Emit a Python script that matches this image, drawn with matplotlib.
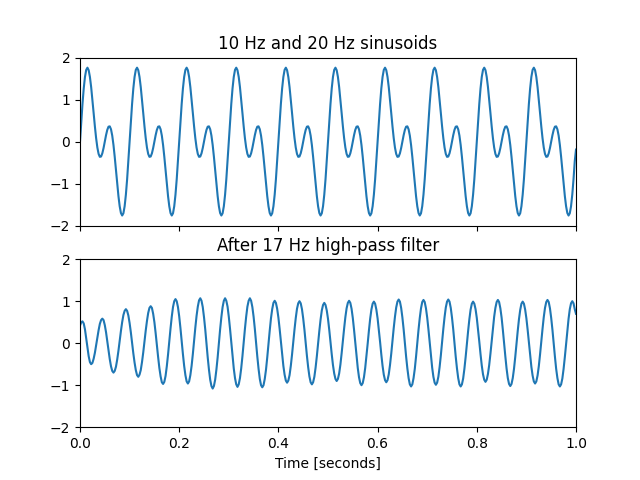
import numpy as np
import matplotlib
matplotlib.use('Agg')
import matplotlib.pyplot as plt

# sample spacing of the traces (seconds)
step = 0.0025
n_cycles = 10

# one 0.1 s period of the raw signal (10 Hz + 20 Hz)
raw_cycle = [0.0, 0.465, 0.897, 1.263, 1.539, 1.707, 1.760, 1.700, 1.539, 1.297,
             1.000, 0.679, 0.363, 0.082, -0.142, -0.293, -0.363, -0.355, -0.279, -0.153,
             0.0, 0.153, 0.279, 0.355, 0.363, 0.293, 0.142, -0.082, -0.363, -0.679,
             -1.000, -1.297, -1.539, -1.700, -1.760, -1.707, -1.539, -1.263, -0.897, -0.465]
raw_end = -0.19

# high-pass filtered trace
filtered = [
    0.42, 0.50, 0.52, 0.47, 0.33, 0.12, -0.10, -0.31, -0.45, -0.50,
    -0.47, -0.37, -0.23, -0.05, 0.14, 0.31, 0.46, 0.55, 0.585,
    0.55, 0.43, 0.26, 0.05, -0.17, -0.38, -0.55, -0.66, -0.70,
    -0.66, -0.56, -0.39, -0.18, 0.06, 0.29, 0.50, 0.67, 0.77, 0.81,
    0.77, 0.66, 0.48, 0.26, 0.01, -0.24, -0.46, -0.64, -0.76, -0.80,
    -0.75, -0.64, -0.45, -0.22, 0.04, 0.30, 0.53, 0.72, 0.84, 0.88,
    0.84, 0.70, 0.50, 0.24, -0.05, -0.33, -0.59, -0.79, -0.93, -0.97,
    -0.92, -0.78, -0.55, -0.27, 0.04, 0.35, 0.63, 0.86, 1.00, 1.05,
    1.00, 0.86, 0.64, 0.36, 0.05, -0.26, -0.54, -0.76, -0.91, -0.96,
    -0.91, -0.76, -0.54, -0.26, 0.06, 0.37, 0.65, 0.87, 1.02, 1.07,
    1.01, 0.86, 0.62, 0.33, 0.00, -0.34, -0.63, -0.87, -1.02, -1.08,
    -1.02, -0.87, -0.63, -0.34, 0.00, 0.33, 0.62, 0.86, 1.01, 1.07,
    1.01, 0.87, 0.63, 0.34, 0.02, -0.31, -0.60, -0.83, -0.98, -1.04,
    -0.98, -0.83, -0.60, -0.31, 0.02, 0.34, 0.63, 0.87, 1.01, 1.07,
    1.01, 0.86, 0.63, 0.34, 0.01, -0.32, -0.61, -0.85, -1.00, -1.05,
    -1.00, -0.85, -0.63, -0.34, -0.02, 0.30, 0.59, 0.81, 0.96, 1.01,
    0.96, 0.82, 0.61, 0.34, 0.04, -0.27, -0.54, -0.75, -0.89, -0.94,
    -0.89, -0.76, -0.54, -0.27, 0.03, 0.33, 0.60, 0.82, 0.95, 1.00,
    0.95, 0.81, 0.59, 0.32, 0.01, -0.30, -0.57, -0.79, -0.93, -0.98,
    -0.93, -0.80, -0.58, -0.31, -0.01, 0.29, 0.56, 0.78, 0.91, 0.96,
    0.91, 0.78, 0.58, 0.32, 0.03, -0.26, -0.52, -0.72, -0.85, -0.90,
    -0.85, -0.72, -0.51, -0.24, 0.06, 0.35, 0.62, 0.83, 0.96, 1.01,
    0.96, 0.82, 0.60, 0.32, 0.01, -0.31, -0.59, -0.81, -0.95, -1.00,
    -0.95, -0.81, -0.59, -0.31, -0.01, 0.30, 0.58, 0.80, 0.94, 0.99,
    0.94, 0.80, 0.59, 0.32, 0.03, -0.27, -0.54, -0.75, -0.88, -0.93,
    -0.88, -0.74, -0.52, -0.25, 0.06, 0.36, 0.63, 0.85, 0.99, 1.04,
    0.99, 0.84, 0.61, 0.33, 0.01, -0.32, -0.60, -0.83, -0.98, -1.03,
    -0.98, -0.83, -0.61, -0.32, 0.00, 0.32, 0.60, 0.83, 0.98, 1.03,
    0.98, 0.83, 0.61, 0.33, 0.02, -0.29, -0.58, -0.80, -0.94, -0.99,
    -0.94, -0.80, -0.57, -0.29, 0.03, 0.34, 0.62, 0.85, 0.99, 1.04,
    0.99, 0.84, 0.61, 0.33, 0.01, -0.32, -0.60, -0.83, -0.98, -1.03,
    -0.98, -0.84, -0.61, -0.33, -0.02, 0.29, 0.57, 0.80, 0.94, 0.99,
    0.94, 0.81, 0.60, 0.33, 0.04, -0.26, -0.53, -0.74, -0.87, -0.92,
    -0.87, -0.73, -0.52, -0.25, 0.05, 0.35, 0.63, 0.84, 0.98, 1.03,
    0.98, 0.83, 0.61, 0.32, 0.00, -0.31, -0.60, -0.83, -0.97, -1.02,
    -0.97, -0.83, -0.61, -0.33, -0.02, 0.29, 0.57, 0.79, 0.94, 0.99,
    0.94, 0.80, 0.59, 0.32, 0.02, -0.29, -0.56, -0.77, -0.91, -0.96,
    -0.91, -0.77, -0.55, -0.27, 0.04, 0.34, 0.62, 0.84, 0.98, 1.03,
    0.98, 0.83, 0.60, 0.32, 0.00, -0.32, -0.61, -0.83, -0.98, -1.03,
    -0.98, -0.84, -0.61, -0.33, -0.02, 0.30, 0.58, 0.81, 0.95, 1.00,
    0.95, 0.81, 0.70,
]

sig = np.append(np.tile(raw_cycle, n_cycles), raw_end)
t = np.arange(len(sig)) * step

fig, (ax1, ax2) = plt.subplots(2, 1, sharex=True)
ax1.plot(t, sig)
ax1.set_title('10 Hz and 20 Hz sinusoids')
ax1.axis([0, 1, -2, 2])

ax2.plot(t, filtered)
ax2.set_title('After 17 Hz high-pass filter')
ax2.axis([0, 1, -2, 2])
ax2.set_xlabel('Time [seconds]')

plt.savefig('out.png')
